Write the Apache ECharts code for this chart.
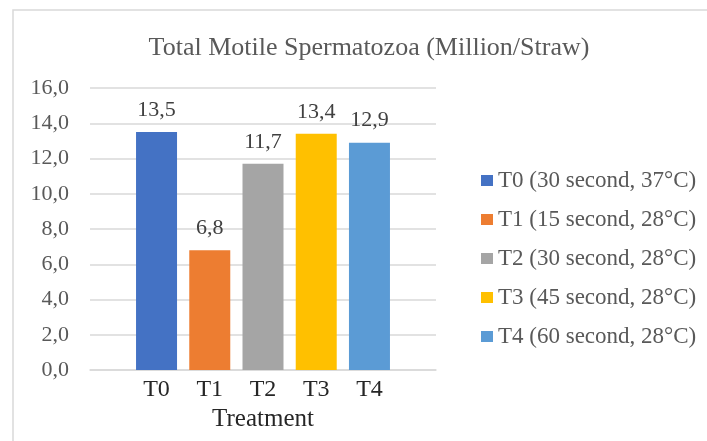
<!DOCTYPE html>
<html>
<head>
<meta charset="utf-8">
<script src="https://cdn.jsdelivr.net/npm/echarts@6/dist/echarts.min.js"></script>
<style>
    html, body { margin: 0; padding: 0; background: #fff; }
    #chart-box { width: 707px; height: 441px; }
</style>
</head>
<body>
<div id="chart-box"></div>
<script>
// data
var categories = ['T0', 'T1', 'T2', 'T3', 'T4'];
var seriesNames = [
    'T0 (30 second, 37°C)',
    'T1 (15 second, 28°C)',
    'T2 (30 second, 28°C)',
    'T3 (45 second, 28°C)',
    'T4 (60 second, 28°C)'
];
var values = [13.5, 6.8, 11.7, 13.4, 12.9];
var yTicks = [0, 2, 4, 6, 8, 10, 12, 14, 16];

var colors = ['#4472C4', '#ED7D31', '#A5A5A5', '#FFC000', '#5B9BD5'];
var font = '"Liberation Serif", "Times New Roman", serif';

function comma(v) {
    return Number(v).toFixed(1).replace('.', ',');
}

var chart = echarts.init(document.getElementById('chart-box'));

// one series per treatment so each gets its own legend entry
var series = categories.map(function (c, i) {
    return {
        name: seriesNames[i],
        type: 'bar',
        barWidth: 41,
        barGap: '-100%',
        itemStyle: { color: colors[i] },
        label: {
            show: true,
            position: 'top',
            distance: 11,
            color: '#404040',
            fontFamily: font,
            fontSize: 22,
            formatter: function (p) { return comma(p.value[1]); }
        },
        data: [[i, values[i]]]
    };
});

var option = {
    animation: false,
    backgroundColor: '#fff',
    textStyle: { fontFamily: font },
    title: {
        text: 'Total Motile Spermatozoa (Million/Straw)',
        left: 364,
        textAlign: 'center',
        top: 30,
        textStyle: {
            color: '#595959',
            fontFamily: font,
            fontSize: 26,
            fontWeight: 'normal'
        }
    },
    graphic: [{
        type: 'rect',
        shape: { x: 13, y: 10, width: 720, height: 460 },
        style: { fill: 'none', stroke: '#d9d9d9', lineWidth: 1.5 },
        silent: true
    }],
    legend: {
        orient: 'vertical',
        left: 476,
        top: 164,
        icon: 'rect',
        itemWidth: 12,
        itemHeight: 11,
        itemGap: 16,
        data: seriesNames,
        textStyle: {
            color: '#595959',
            fontFamily: font,
            fontSize: 23,
            lineHeight: 22
        }
    },
    grid: {
        left: 90,
        right: 271,
        top: 88,
        bottom: 71
    },
    xAxis: {
        type: 'value',
        min: -1.25,
        max: 5.25,
        name: 'Treatment',
        nameLocation: 'middle',
        nameGap: 37,
        nameTextStyle: {
            color: '#262626',
            fontFamily: font,
            fontSize: 25
        },
        axisLine: { show: true, lineStyle: { color: '#d9d9d9', width: 1.5 } },
        axisTick: { show: false },
        splitLine: { show: false },
        axisLabel: {
            customValues: [0, 1, 2, 3, 4],
            margin: 8,
            color: '#262626',
            fontFamily: font,
            fontSize: 24,
            formatter: function (v) { return categories[v]; }
        }
    },
    yAxis: {
        type: 'value',
        min: yTicks[0],
        max: yTicks[yTicks.length - 1],
        interval: 2,
        axisLine: { show: false },
        axisTick: { show: false },
        splitLine: { lineStyle: { color: '#d9d9d9', width: 1.5 } },
        axisLabel: {
            margin: 21,
            color: '#595959',
            fontFamily: font,
            fontSize: 22,
            formatter: comma
        }
    },
    series: series
};

chart.setOption(option);
</script>
</body>
</html>
